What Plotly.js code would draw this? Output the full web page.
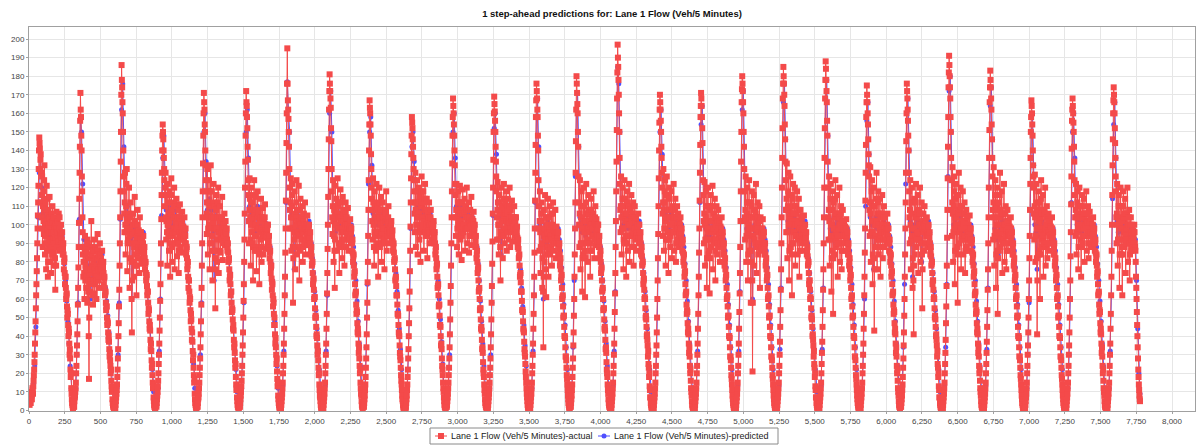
<!DOCTYPE html>
<html>
<head>
<meta charset="utf-8">
<script src="https://cdn.plot.ly/plotly-3.0.1.min.js"></script>
<style>
  html, body { margin: 0; padding: 0; background: #ffffff; }
  #chart { width: 1201px; height: 447px; }
</style>
</head>
<body>
<div id="chart"></div>
<script>
// ---- Chart text ----
const chartTitle = '1 step-ahead predictions for: Lane 1 Flow (Veh/5 Minutes)';
const seriesNames = ['Lane 1 Flow (Veh/5 Minutes)-actual', 'Lane 1 Flow (Veh/5 Minutes)-predicted'];

// ---- Sampling of the time index (readings) ----
const actualStep = 4;     // main actual readings every 4 time steps
const midOffset = 2;      // extra actual readings half-way between them
const predictedStep = 8;  // predicted readings every 8 time steps

// ---- Actual flow (Veh/5 Minutes) at steps 0,4,8,... one line per day ----
const actualFlow = [
  5,3,8,4,10,6,12,9,16,22,30,42,55,68,82,98,112,130,
  147,141,135,128,104,126,88,118,95,132,84,112,76,121,98,72,108,90,115,80,101,74,96,110,85,104,78,99,65,93,107,88,102,91,106,86,98,92,100,88,96,84,90,76,82,68,72,60,63,50,52,40,42,30,28,18,12,6,3,1,4,2,7,10,15,24,35,48,66,88,114,142,
  171,158,140,118,96,72,88,60,94,78,66,85,58,90,70,17,82,64,76,102,68,86,57,80,92,63,74,88,60,78,95,70,84,66,90,75,82,72,86,74,80,68,72,62,64,54,56,46,47,38,37,29,27,20,16,10,6,3,2,0,3,1,5,9,14,22,33,47,65,90,118,150,
  186,174,160,140,118,96,128,84,110,130,75,104,92,120,66,98,112,80,42,95,106,72,88,115,78,100,62,93,108,82,97,74,104,88,96,79,92,85,94,82,88,76,80,70,73,62,64,52,54,44,43,33,32,23,19,12,7,3,2,1,4,2,6,10,16,25,36,50,68,90,116,140,
  154,146,136,124,110,128,92,116,78,122,100,86,118,72,106,125,94,80,112,98,120,76,104,90,114,83,100,108,74,96,111,88,102,93,107,85,99,92,104,90,98,84,88,76,80,66,70,58,60,48,49,38,37,27,23,15,9,4,2,1,3,2,6,9,15,23,34,48,66,90,118,148,
  171,162,150,132,118,95,130,84,112,124,76,105,132,90,118,70,101,122,86,110,55,98,116,80,104,120,74,96,110,85,102,92,115,81,100,94,106,89,102,92,98,86,90,80,82,70,73,62,64,53,54,44,43,34,31,23,18,11,7,3,2,1,3,2,6,10,16,24,35,50,68,92,120,148,
  172,164,152,135,116,90,125,104,78,120,96,112,70,108,124,86,100,115,75,98,118,88,106,68,102,92,114,80,97,109,84,103,95,111,87,100,93,98,100,88,94,82,86,74,78,65,68,56,58,46,46,36,34,25,21,13,8,4,2,1,3,1,5,9,15,24,36,52,72,98,128,160,
  195,167,157,142,120,98,125,86,110,122,58,104,92,118,76,100,124,84,108,95,121,70,102,114,88,98,110,80,96,106,90,112,84,100,94,105,89,97,100,90,96,84,88,78,80,68,71,60,61,50,50,40,39,30,27,19,14,8,5,2,1,0,2,1,5,9,15,24,36,52,74,100,130,162,
  181,172,163,145,118,95,124,80,108,66,121,100,114,86,125,98,110,74,104,119,90,102,82,115,96,108,78,100,112,88,104,94,109,86,98,92,103,95,98,86,92,80,84,72,75,62,64,52,53,42,41,31,28,20,15,9,5,2,1,3,2,6,11,18,28,41,58,80,108,140,
  167,160,148,130,114,92,125,100,78,118,104,86,122,96,110,72,106,120,88,100,115,80,98,112,92,104,76,108,95,118,86,102,97,110,90,101,94,99,102,92,97,86,90,80,82,70,72,62,62,52,51,42,40,31,27,19,14,8,5,2,1,0,2,1,4,8,14,22,33,47,64,86,112,138,
  158,152,142,130,118,96,128,88,112,124,84,106,120,92,115,80,110,126,98,104,118,86,108,122,94,100,114,82,106,97,112,90,103,108,92,100,96,99,102,90,96,84,88,76,79,66,68,56,57,46,45,35,33,24,19,12,7,3,2,1,3,2,5,9,15,23,34,49,67,90,118,148,
  168,160,148,132,116,94,122,88,108,118,84,102,121,92,112,81,106,119,96,100,114,86,110,98,120,90,104,112,85,101,108,94,115,89,103,97,107,95,100,88,94,82,86,74,77,64,66,54,55,44,43,33,31,22,18,11,6,3,2,1,3,1,5,9,15,23,34,49,67,91,120,150,
  169,161,150,134,118,92,123,100,84,116,106,70,120,94,110,82,104,122,90,112,98,118,86,106,114,92,101,120,88,108,96,113,91,104,99,110,94,102,104,94,99,88,92,82,84,72,74,64,64,54,53,44,42,33,29,21,15,9,5,2,1,0,2,1,5,9,15,24,36,52,72,98,128,158,
  176,168,158,140,110,86,118,74,102,112,66,96,34,108,80,116,92,61,104,88,114,72,98,110,84,94,106,78,100,112,86,97,90,108,82,99,93,96,96,84,90,78,82,70,73,60,62,50,51,40,39,29,27,19,14,8,4,2,1,3,2,6,11,18,28,42,60,84,112,145,
  180,171,160,142,112,88,124,76,104,118,64,98,120,84,110,61,102,122,90,106,80,116,96,108,72,100,114,86,104,94,118,82,101,110,89,103,95,100,100,88,94,82,86,74,77,64,66,54,55,44,43,33,31,22,18,11,6,3,2,0,3,1,5,9,15,24,36,53,74,102,134,168,
  197,185,170,150,122,96,126,84,110,120,76,104,124,90,114,72,106,118,86,100,122,80,108,94,116,88,102,112,78,98,110,92,104,86,100,96,106,93,100,90,96,84,88,78,80,68,71,60,60,50,49,40,38,29,25,18,13,7,4,2,1,0,2,1,5,9,15,24,35,50,70,95,125,155,
  170,162,150,136,120,94,130,86,112,124,78,104,126,92,116,74,108,120,88,100,118,82,110,96,122,86,104,114,80,98,110,92,106,88,101,96,104,93,98,86,92,80,84,72,75,62,64,52,53,42,41,31,29,20,16,10,5,2,1,0,2,1,5,9,15,24,36,52,72,98,128,158,
  171,164,152,134,116,90,123,78,104,118,66,98,120,84,110,63,102,116,88,96,121,76,106,92,114,70,100,110,84,97,108,88,102,80,99,93,104,91,96,84,90,78,82,70,73,60,62,50,51,40,39,29,27,19,14,8,4,2,1,0,2,1,5,9,15,24,36,53,74,102,134,166,
  180,172,160,142,118,92,126,80,106,120,70,100,124,86,112,58,104,118,21,94,116,78,108,90,122,74,100,112,84,96,110,66,104,88,98,92,103,90,96,84,90,78,82,70,73,60,62,50,51,40,39,29,27,19,14,8,4,2,1,0,2,1,5,9,15,24,37,54,76,104,136,168,
  185,176,164,146,124,96,133,82,110,128,70,104,126,88,116,62,106,122,90,100,120,78,110,94,118,84,102,114,72,98,108,90,104,86,100,94,105,92,100,90,96,84,88,78,80,68,70,60,60,50,49,40,38,29,25,18,13,7,4,2,1,0,2,1,5,9,15,25,37,54,76,104,136,168,
  188,178,166,148,120,92,126,78,108,122,64,100,118,52,112,84,104,124,88,96,116,72,106,90,120,80,100,110,76,98,108,86,102,90,99,94,103,91,96,84,90,78,82,70,73,60,62,50,51,40,39,29,27,19,14,8,4,2,1,0,2,1,5,9,15,24,36,52,72,98,128,158,
  175,166,154,138,126,94,131,80,112,124,68,102,120,43,110,88,100,128,76,106,118,84,98,114,72,104,96,116,82,100,110,88,104,92,100,95,106,90,98,86,92,80,84,72,75,62,64,52,53,42,41,31,29,20,16,10,5,2,1,3,2,6,11,18,28,42,60,84,112,145,
  176,168,156,140,118,90,124,76,106,120,66,98,41,114,84,104,122,88,96,116,74,108,92,120,80,100,112,55,98,106,86,110,90,102,94,104,88,98,100,90,96,84,88,78,80,68,70,60,60,50,49,40,38,29,25,18,13,7,4,2,1,0,2,1,5,9,15,25,38,56,78,108,142,174,
  191,180,168,150,124,94,131,80,110,126,68,104,122,86,116,58,106,128,90,100,120,76,110,94,118,84,102,112,74,98,108,88,104,86,100,93,105,92,98,86,92,80,84,72,75,62,64,52,53,42,41,31,29,20,16,10,5,2,1,0,2,1,5,9,15,25,37,54,76,104,136,166,
  183,174,162,146,126,92,131,78,108,124,66,100,120,52,112,86,104,128,88,96,118,74,106,92,122,80,100,110,76,97,108,86,102,90,99,94,104,91,96,84,90,78,82,70,73,60,62,50,51,40,39,29,27,19,14,8,4,2,1,0,2,1,5,9,15,24,35,50,70,94,122,150,
  167,160,148,132,120,92,127,80,106,122,41,98,118,84,112,60,104,124,88,96,116,72,108,90,120,78,100,110,82,97,106,86,102,90,99,93,104,90,96,84,90,78,82,70,73,60,62,50,51,40,39,29,27,19,14,8,4,2,1,0,2,1,5,9,15,24,35,50,70,96,126,156,
  168,160,150,134,116,94,122,84,106,118,76,100,120,88,110,72,104,116,90,98,114,80,106,94,118,86,101,110,82,97,107,90,103,88,100,95,104,92,98,86,92,80,84,72,75,62,64,52,53,42,41,31,29,20,16,10,5,2,1,0,2,1,5,9,15,24,36,52,72,100,132,160,
  174,166,152,136,118,90,122,78,104,116,66,100,120,84,110,62,102,118,88,96,114,74,106,92,120,80,100,108,70,96,104,86,100,88,97,92,100,90,86,72,60,46,34,22,14,8,5
];

// ---- Actual flow at the in-between steps 2,6,10,... one line per day ----
const actualFlowMid = [
  4,6,6,7,8,9,11,13,19,26,36,48,62,75,90,105,121,140,
  144,130,138,112,116,98,110,102,124,90,100,94,108,86,114,80,100,96,104,92,88,106,84,102,96,92,90,82,100,78,98,94,96,100,88,104,94,96,94,92,90,87,84,80,74,72,66,62,56,54,46,44,36,33,22,20,9,4,2,3,2,5,8,12,20,30,41,57,77,101,128,156,
  162,148,126,104,84,80,74,86,70,88,72,76,92,64,40,50,74,70,88,84,78,62,70,86,76,68,82,72,70,86,82,76,72,80,84,78,76,80,80,77,74,71,66,63,58,56,50,48,42,40,33,31,24,22,13,12,4,2,1,2,2,3,7,11,18,28,40,56,78,104,134,170,
  178,166,150,126,106,112,100,96,122,102,90,98,106,94,82,104,96,60,70,100,90,80,102,96,90,84,78,100,96,88,86,90,96,92,88,86,88,90,88,85,82,79,74,72,67,64,58,55,48,46,38,36,27,25,15,14,5,2,1,3,3,4,8,13,20,30,43,59,79,103,128,148,
  150,140,130,116,120,104,102,96,100,112,94,102,96,90,116,108,88,96,104,110,98,90,96,102,98,92,104,90,86,104,98,94,96,100,96,92,94,98,96,94,90,87,82,78,72,70,64,61,54,52,44,42,32,30,19,17,6,3,1,2,2,4,7,12,19,28,41,57,78,104,133,160,
  166,154,140,124,106,112,104,98,118,100,90,118,110,104,94,86,112,104,98,82,76,108,98,92,112,96,86,104,98,94,96,104,98,90,96,100,98,96,96,95,92,88,85,81,76,72,68,64,58,55,49,46,38,36,27,25,14,12,5,2,1,2,2,4,8,13,20,30,42,59,80,106,134,160,
  166,158,142,124,102,108,114,92,100,108,104,90,88,116,106,94,108,94,86,108,104,98,86,84,96,104,98,88,104,96,94,100,104,98,94,96,96,100,94,91,88,85,80,77,71,69,62,60,52,50,41,39,30,28,17,15,6,3,1,2,2,3,7,12,20,30,44,62,85,113,144,176,
  176,162,150,130,108,112,104,98,116,88,82,98,106,96,88,112,104,96,102,108,94,86,108,100,92,104,96,88,102,98,100,98,92,96,100,96,92,98,94,93,90,86,83,79,74,70,65,61,55,51,45,41,35,32,23,20,11,7,3,1,0,1,1,3,7,12,20,30,44,63,87,115,146,172,
  176,168,152,130,104,110,102,94,86,92,110,106,100,106,112,104,90,88,112,104,96,92,98,106,102,92,88,106,100,96,98,100,96,92,94,98,99,96,90,90,85,83,78,74,68,63,57,54,47,44,36,34,24,22,12,8,3,2,2,2,4,8,14,23,34,50,69,94,124,154,
  163,154,138,120,102,108,112,88,96,110,94,104,108,102,90,88,112,104,94,108,96,90,104,102,98,90,92,102,106,102,94,100,104,100,96,98,96,100,96,94,91,88,85,81,76,71,67,62,57,52,46,41,35,29,23,16,11,6,3,1,0,1,1,2,6,11,18,28,40,55,75,99,125,148,
  155,146,136,124,106,112,108,100,118,104,96,112,106,104,98,96,118,112,100,112,102,96,114,108,96,108,98,94,102,104,100,96,104,100,96,96,98,100,96,93,90,86,82,78,72,67,62,57,51,46,40,36,28,22,15,10,5,2,1,2,2,3,7,12,19,28,41,58,78,104,133,158,
  164,154,140,122,104,108,104,98,112,100,94,112,106,102,96,94,112,108,98,106,100,98,104,108,104,98,108,98,94,104,100,104,102,96,100,102,100,98,94,91,88,84,80,76,70,65,60,55,49,45,38,34,26,20,14,9,4,2,1,2,2,3,7,12,19,28,41,58,79,106,135,160,
  165,156,142,126,104,108,112,92,100,112,88,96,108,102,96,94,114,106,102,106,108,102,96,110,102,96,110,104,98,102,104,102,98,100,104,102,98,104,98,96,93,90,87,83,78,73,69,64,59,54,48,43,37,31,25,18,12,7,3,1,0,1,1,3,7,12,20,30,44,62,85,113,143,167,
  172,162,148,124,98,102,96,88,106,90,82,64,72,94,98,104,76,84,96,100,92,86,104,96,88,100,92,90,106,98,92,94,98,96,90,96,94,96,90,87,84,80,76,72,66,61,56,51,45,40,34,29,23,17,11,6,3,1,2,2,4,8,14,23,35,51,72,98,128,162,
  176,165,150,126,100,106,100,90,110,90,82,110,102,96,86,82,112,106,98,92,98,106,102,90,86,108,100,94,98,106,100,92,104,100,96,100,98,100,94,91,88,84,80,76,70,65,60,55,49,45,38,34,26,20,14,9,4,2,1,1,2,3,7,12,20,30,44,63,88,118,151,182,
  190,178,160,136,108,110,104,98,114,98,92,114,106,102,94,90,112,102,94,110,100,94,100,104,102,94,106,96,88,104,102,98,96,94,98,100,100,96,94,93,90,86,83,79,74,70,65,61,55,51,45,41,35,32,23,20,11,7,3,1,0,1,1,3,7,12,20,30,42,60,82,110,140,162,
  166,156,142,128,106,112,108,98,118,102,92,116,108,104,96,92,114,104,94,108,100,96,102,104,104,96,108,98,90,104,100,98,98,94,98,100,98,96,90,90,85,83,78,74,68,63,57,54,47,44,36,34,24,22,12,8,3,2,0,1,1,3,7,12,20,30,44,62,85,113,143,164,
  168,158,144,124,102,106,100,92,110,92,82,110,102,96,86,82,108,102,92,110,98,90,98,104,92,86,104,96,90,102,98,94,92,90,96,98,96,94,90,87,84,80,76,72,66,61,56,51,45,40,34,29,23,17,11,6,3,1,0,1,1,3,7,12,20,30,44,63,88,118,150,173,
  176,166,150,130,104,108,102,94,112,96,84,112,104,98,86,80,110,70,58,104,98,92,98,106,98,88,104,98,90,102,88,86,96,94,96,98,96,94,90,87,84,80,76,72,66,61,56,51,45,40,34,29,23,17,11,6,3,1,0,1,1,3,7,12,20,30,45,65,90,120,152,176,
  180,170,154,134,108,114,108,96,118,100,86,116,106,102,90,84,114,106,96,110,100,94,102,106,100,92,108,94,86,102,98,96,94,92,98,98,98,96,94,93,90,86,83,79,74,70,65,61,55,51,45,41,35,32,23,20,11,7,3,1,0,1,1,3,7,12,20,31,45,65,90,120,152,178,
  184,172,156,134,104,108,102,92,114,94,82,108,86,82,98,94,114,106,92,106,94,90,98,104,100,90,106,94,86,102,98,94,96,94,96,98,98,94,90,87,84,80,76,72,66,61,56,51,45,40,34,29,23,17,11,6,3,1,0,1,1,3,7,12,20,30,44,62,85,113,143,166,
  170,160,146,132,108,112,106,96,118,96,84,110,82,76,100,94,114,102,92,112,100,92,106,94,88,100,106,100,92,104,98,96,98,96,98,100,98,94,90,90,85,83,78,74,68,63,57,54,47,44,36,34,24,22,12,8,3,2,2,2,4,8,14,23,35,51,72,98,128,160,
  172,162,148,128,104,108,100,92,112,94,82,70,78,98,94,112,104,92,106,96,92,100,106,100,90,106,84,76,102,96,98,100,96,98,99,96,94,99,94,93,90,86,83,79,74,70,65,61,55,51,45,41,35,32,23,20,11,7,3,1,0,1,1,3,7,12,20,31,47,67,93,125,158,182,
  186,174,158,136,108,112,106,96,118,98,86,114,104,100,88,84,116,108,96,110,98,92,102,106,100,92,106,94,86,102,98,96,94,92,96,98,98,95,90,90,85,83,78,74,68,63,57,54,47,44,36,34,24,22,12,8,3,2,0,1,1,3,7,12,20,31,45,65,90,120,151,174,
  178,168,154,136,108,112,104,94,116,96,84,110,86,82,100,94,116,108,92,106,96,90,98,106,100,90,106,94,86,102,98,94,96,94,96,98,98,94,90,87,84,80,76,72,66,61,56,51,45,40,34,29,23,17,11,6,3,1,0,1,1,3,7,12,20,30,42,60,82,108,136,158,
  164,154,140,126,106,110,104,94,112,82,70,108,102,98,86,84,114,106,92,106,94,90,98,106,98,88,104,96,90,102,96,94,96,94,96,98,98,93,90,87,84,80,76,72,66,61,56,51,45,40,34,29,23,17,11,6,3,1,0,1,1,3,7,12,20,30,42,60,83,111,141,162,
  164,155,142,124,104,108,104,96,112,98,88,110,104,100,92,88,110,104,94,106,98,94,100,106,102,94,106,96,90,102,98,96,96,94,98,100,98,95,90,90,85,83,78,74,68,63,57,54,47,44,36,34,24,22,12,8,3,2,0,1,1,3,7,12,20,30,44,62,86,116,146,167,
  170,160,144,126,104,106,100,92,110,92,84,110,102,98,88,84,110,104,92,106,94,90,98,106,100,90,104,90,84,100,96,92,94,92,94,96,96,88,80,66,53,40,28,18,11,6
];

// ---- Predicted flow (Veh/5 Minutes) at steps 0,8,16,... one line per day ----
const predictedFlow = [
  6,5,8,9,14,24,45,75,104,
  128,138,120,106,112,98,104,94,100,88,96,92,86,98,94,90,97,95,96,100,94,88,79,70,59,48,36,24,12,5,3,6,12,30,58,103,
  158,150,122,92,84,80,76,70,78,60,74,82,72,78,76,80,74,79,76,84,78,72,66,59,51,42,32,21,10,4,3,6,12,30,58,103,
  162,176,142,112,104,110,96,100,92,60,98,94,90,98,92,96,90,94,90,96,88,80,72,64,54,44,33,22,10,4,3,6,12,32,60,105,
  136,148,128,108,104,110,98,106,100,104,96,108,100,98,104,96,101,98,96,104,96,88,80,70,60,49,37,25,12,4,3,6,12,30,58,104,
  150,160,134,108,104,114,100,108,96,70,104,110,98,104,96,100,98,102,96,102,96,90,82,74,64,54,44,33,22,10,4,3,6,12,30,58,106,
  150,162,136,110,104,106,100,108,96,104,110,98,102,96,104,100,98,101,98,100,94,88,79,70,59,48,36,24,12,4,3,6,13,32,62,112,
  177,162,150,112,106,104,76,100,104,98,108,102,104,98,100,96,100,98,96,102,96,90,82,74,64,54,44,33,22,10,4,3,6,13,32,62,115,
  160,172,150,110,102,96,106,104,110,100,106,98,104,102,100,104,98,100,98,100,94,88,79,70,59,48,36,24,12,3,4,14,34,68,122,
  150,158,132,106,104,100,104,108,100,102,106,98,104,100,102,98,104,100,98,102,96,90,82,74,64,54,44,33,22,10,4,3,5,11,28,55,98,
  142,150,134,112,106,110,104,108,106,110,102,108,104,106,104,100,106,102,100,102,96,88,80,70,60,49,37,25,12,4,3,6,12,30,58,104,
  150,160,136,110,108,106,104,110,104,106,108,104,106,102,108,104,102,104,100,100,94,88,79,70,59,48,36,24,12,4,3,6,12,30,58,105,
  152,160,138,108,104,100,84,106,104,102,108,104,106,100,104,102,104,100,102,104,98,92,84,76,66,56,46,35,24,12,4,3,6,12,32,62,112,
  158,168,142,100,96,90,60,98,100,90,102,96,98,94,100,98,96,98,96,98,92,86,77,68,57,46,34,22,10,3,4,14,34,70,126,
  162,171,142,104,98,96,100,98,94,102,100,98,96,102,100,96,100,98,99,100,94,88,79,70,59,48,36,24,12,4,3,6,13,32,64,118,
  185,176,150,110,104,100,104,106,100,98,104,100,102,98,104,100,98,100,98,102,96,90,82,74,64,54,44,33,22,10,4,3,6,12,30,60,110,
  150,162,138,112,106,102,108,104,98,104,106,102,104,100,104,98,102,98,98,100,94,88,79,70,59,48,36,24,12,4,3,6,12,32,62,112,
  154,164,134,100,98,94,100,98,94,102,98,96,100,98,96,100,96,98,97,98,92,86,77,68,57,46,34,22,10,4,3,6,13,32,64,118,
  162,172,142,104,98,96,100,98,94,60,98,100,96,102,98,96,98,96,96,98,92,86,77,68,57,46,34,22,10,4,3,6,13,33,66,120,
  166,176,146,108,102,98,104,100,96,104,100,98,102,96,100,98,100,97,98,102,96,90,82,74,64,54,44,33,22,10,4,3,6,13,33,66,120,
  168,178,148,104,98,92,96,84,100,104,98,102,96,100,98,96,100,96,97,98,92,86,77,68,57,46,34,22,10,4,3,6,12,30,60,110,
  156,166,138,104,100,96,76,100,104,98,100,104,96,100,98,102,98,100,98,100,94,88,79,70,59,48,36,24,12,3,4,14,34,68,122,
  160,168,140,102,96,72,98,100,104,98,102,96,100,80,100,98,100,97,98,102,96,90,82,74,64,54,44,33,22,10,4,3,6,14,34,68,126,
  172,180,150,106,100,98,104,96,100,104,98,102,96,100,98,100,96,99,97,100,94,88,79,70,59,48,36,24,12,4,3,6,13,33,66,120,
  164,174,146,104,98,92,96,84,100,104,98,102,96,100,98,96,100,96,97,98,92,86,77,68,57,46,34,22,10,4,3,6,12,30,58,108,
  150,160,132,100,96,76,98,100,94,102,98,100,96,100,98,96,100,96,97,98,92,86,77,68,57,46,34,22,10,4,3,6,12,30,60,112,
  150,160,136,104,100,98,102,100,96,104,100,98,102,98,100,98,102,98,98,100,94,88,79,70,59,48,36,24,12,4,3,6,12,32,62,114,
  154,166,136,102,96,92,98,100,96,102,98,96,100,96,98,94,98,96,96,92,70,44,20,9
];

// ---- Axis ticks ----
const xTickStep = 250;
const yTickStep = 10;

// ---- Build the actual series in time order from its two sets of readings ----
const actualX = [];
const actualY = [];
actualFlow.forEach((v, i) => {
  actualX.push(i * actualStep);
  actualY.push(v);
  if (i < actualFlowMid.length) {
    actualX.push(i * actualStep + midOffset);
    actualY.push(actualFlowMid[i]);
  }
});
const predictedX = predictedFlow.map((_, i) => i * predictedStep);

const red = '#f44a4a';
const blue = '#4f4fff';
const fontFam = '"Liberation Sans", Arial, Helvetica, sans-serif';

const tracePredicted = {
  type: 'scatter', mode: 'lines+markers',
  name: seriesNames[1], showlegend: false,
  x: predictedX, y: predictedFlow,
  line: { color: blue, width: 1 },
  marker: { symbol: 'circle', size: 5, color: blue, line: { width: 0 } }
};
const traceActual = {
  type: 'scatter', mode: 'lines+markers',
  name: seriesNames[0], showlegend: false,
  x: actualX, y: actualY,
  line: { color: red, width: 1 },
  marker: { symbol: 'square', size: 6, color: red, line: { width: 0 } }
};

// ---- Page geometry (pixels) ----
const W = 1201, H = 447;
const plotBox = { left: 29, right: 1195, top: 27, bottom: 411 };
const legendBox = { left: 430, right: 778, top: 428, bottom: 444 };
const px2x = p => (p - plotBox.left) / (plotBox.right - plotBox.left);
const py2y = p => (plotBox.bottom - p) / (plotBox.bottom - plotBox.top);

// Legend drawn as a boxed key below the axis (like the original)
const legendMidY = (legendBox.top + legendBox.bottom) / 2;
const keyItems = [
  { name: seriesNames[0], color: red, symbol: 'rect', lineFrom: legendBox.left + 5, textAt: legendBox.left + 19, size: 6 },
  { name: seriesNames[1], color: blue, symbol: 'circle', lineFrom: legendBox.left + 168, textAt: legendBox.left + 182, size: 5 }
];
const legendShapes = [{
  type: 'rect', xref: 'paper', yref: 'paper',
  x0: px2x(legendBox.left), x1: px2x(legendBox.right),
  y0: py2y(legendBox.bottom), y1: py2y(legendBox.top),
  line: { color: '#8a8a8a', width: 1 }, fillcolor: '#ffffff', layer: 'above'
}];
const legendTexts = [];
keyItems.forEach(k => {
  const cx = k.lineFrom + 6;
  legendShapes.push({
    type: 'line', xref: 'paper', yref: 'paper',
    x0: px2x(k.lineFrom), x1: px2x(k.lineFrom + 12),
    y0: py2y(legendMidY), y1: py2y(legendMidY),
    line: { color: k.color, width: 1 }, layer: 'above'
  });
  legendShapes.push({
    type: k.symbol, xref: 'paper', yref: 'paper',
    x0: px2x(cx - k.size / 2), x1: px2x(cx + k.size / 2),
    y0: py2y(legendMidY + k.size / 2), y1: py2y(legendMidY - k.size / 2),
    line: { width: 0 }, fillcolor: k.color, layer: 'above'
  });
  legendTexts.push({
    xref: 'paper', yref: 'paper', x: px2x(k.textAt), y: py2y(legendMidY),
    xanchor: 'left', yanchor: 'middle', showarrow: false,
    text: k.name, font: { family: fontFam, size: 9, color: '#222' }
  });
});

const axisCommon = {
  showgrid: true, gridcolor: '#e6e6e6', gridwidth: 1,
  zeroline: false, showline: true, linecolor: '#a0a0a0', linewidth: 1, mirror: true,
  ticks: 'outside', ticklen: 2, tickcolor: '#a0a0a0',
  tickfont: { family: fontFam, size: 8, color: '#444' },
  automargin: false
};

const layout = {
  width: W, height: H,
  margin: { l: plotBox.left, r: W - plotBox.right, t: plotBox.top, b: H - plotBox.bottom, pad: 0, autoexpand: false },
  paper_bgcolor: '#ffffff', plot_bgcolor: '#ffffff',
  title: {
    text: '<b>' + chartTitle + '</b>',
    font: { family: fontFam, size: 9.5, color: '#111' },
    x: 0.5, xanchor: 'center', xref: 'paper',
    y: 1 - 14 / H, yanchor: 'middle', yref: 'container'
  },
  xaxis: Object.assign({}, axisCommon, {
    range: [0, 8161], tickmode: 'linear', tick0: 0, dtick: xTickStep, tickformat: ',d'
  }),
  yaxis: Object.assign({}, axisCommon, {
    range: [-0.3, 206.5], tickmode: 'linear', tick0: 0, dtick: yTickStep, tickformat: 'd'
  }),
  showlegend: false,
  shapes: legendShapes,
  annotations: legendTexts,
  hovermode: false
};

Plotly.newPlot('chart', [tracePredicted, traceActual], layout, { staticPlot: true, displayModeBar: false })
  .then(() => {
    const endA = (actualFlow.length - 1) * actualStep;
    const endP = (predictedFlow.length - 1) * predictedStep;
    if (endA !== endP || actualFlowMid.length !== actualFlow.length - 1) {
      throw new Error('Length mismatch: actual ' + actualFlow.length + ' mid ' + actualFlowMid.length + ' predicted ' + predictedFlow.length);
    }
  });
</script>
</body>
</html>
